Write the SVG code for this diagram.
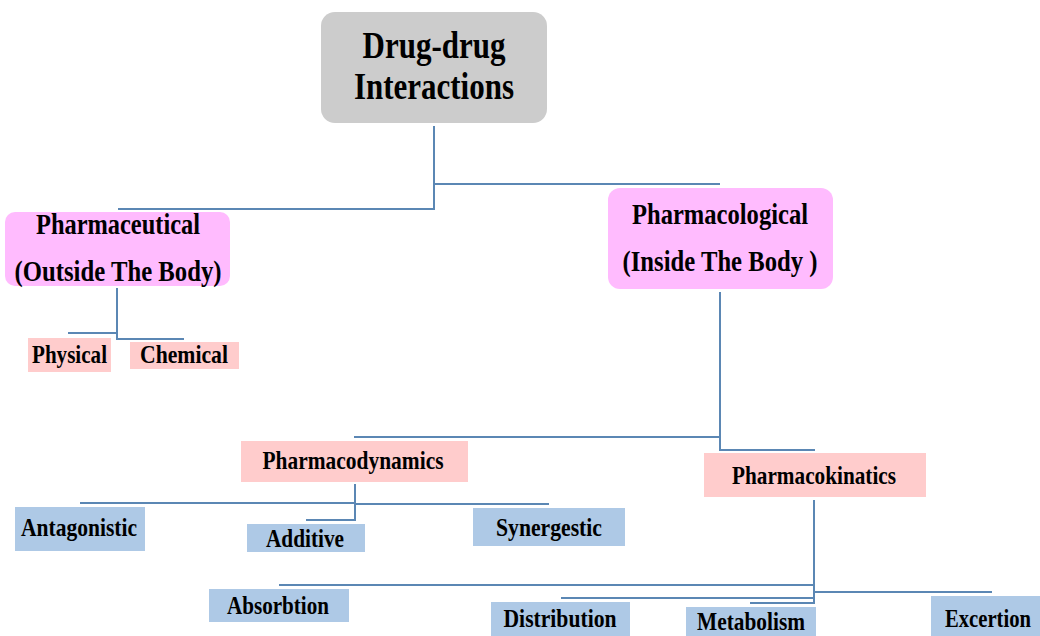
<svg xmlns="http://www.w3.org/2000/svg" width="1040" height="636" viewBox="0 0 1040 636">
<style>
text{font-family:"Liberation Serif","Times New Roman",serif;font-weight:bold;fill:#000;text-anchor:middle}
.con{fill:none;stroke:#5b87b4;stroke-width:2}
.gray{fill:#cccccc}
.mag{fill:#ffbbfe}
.pink{fill:#ffcccc}
.blue{fill:#aec9e6}
.t38{font-size:37px}
.t27{font-size:29px}
.t24{font-size:26px}
.t23{font-size:25px}
</style>
<rect width="1040" height="636" fill="#ffffff"/>
<g id="connectors" class="con">
<polyline points="434,126 434,209 118,209"/>
<polyline points="434,184 720,184"/>
<polyline points="117,288 117,339 184,339"/>
<polyline points="68,333 117,333"/>
<polyline points="720,292 720,450 815,450"/>
<polyline points="354,437 720,437"/>
<polyline points="355,484 355,520 306,520"/>
<polyline points="80,503 355,503"/>
<polyline points="355,504 549,504"/>
<polyline points="814,500 814,603 750,603"/>
<polyline points="279,585 814,585"/>
<polyline points="561,598 814,598"/>
<polyline points="814,592 992,592"/>
</g>
<g id="n-root">
<rect class="gray" x="321" y="12" width="226" height="111" rx="14"/>
<text class="t38" x="434" y="58" textLength="143" lengthAdjust="spacingAndGlyphs">Drug-drug</text>
<text class="t38" x="434" y="99" textLength="160" lengthAdjust="spacingAndGlyphs">Interactions</text>
</g>
<g id="n-pharmaceutical">
<rect class="mag" x="5" y="212" width="225" height="74" rx="10"/>
<text class="t27" x="118" y="234" textLength="164" lengthAdjust="spacingAndGlyphs">Pharmaceutical</text>
<text class="t27" x="118" y="281" textLength="207" lengthAdjust="spacingAndGlyphs">(Outside The Body)</text>
</g>
<g id="n-pharmacological">
<rect class="mag" x="608" y="188" width="225" height="101" rx="12"/>
<text class="t27" x="720" y="224" textLength="176" lengthAdjust="spacingAndGlyphs">Pharmacological</text>
<text class="t27" x="720" y="271" textLength="195" lengthAdjust="spacingAndGlyphs">(Inside The Body )</text>
</g>
<g id="n-physical">
<rect class="pink" x="28" y="338" width="83" height="34"/>
<text class="t23" x="69.5" y="363" textLength="75" lengthAdjust="spacingAndGlyphs">Physical</text>
</g>
<g id="n-chemical">
<rect class="pink" x="130" y="342" width="109" height="27"/>
<text class="t23" x="184" y="363" textLength="88" lengthAdjust="spacingAndGlyphs">Chemical</text>
</g>
<g id="n-pharmacodynamics">
<rect class="pink" x="241" y="441" width="227" height="41"/>
<text class="t24" x="353" y="469" textLength="181" lengthAdjust="spacingAndGlyphs">Pharmacodynamics</text>
</g>
<g id="n-pharmacokinatics">
<rect class="pink" x="704" y="453" width="222" height="44"/>
<text class="t24" x="814" y="484" textLength="164" lengthAdjust="spacingAndGlyphs">Pharmacokinatics</text>
</g>
<g id="n-antagonistic">
<rect class="blue" x="15" y="507" width="130" height="44"/>
<text class="t23" x="79" y="536" textLength="116" lengthAdjust="spacingAndGlyphs">Antagonistic</text>
</g>
<g id="n-additive">
<rect class="blue" x="247" y="524" width="118" height="28"/>
<text class="t23" x="305" y="547" textLength="78" lengthAdjust="spacingAndGlyphs">Additive</text>
</g>
<g id="n-synergestic">
<rect class="blue" x="473" y="508" width="152" height="38"/>
<text class="t23" x="549" y="536" textLength="106" lengthAdjust="spacingAndGlyphs">Synergestic</text>
</g>
<g id="n-absorbtion">
<rect class="blue" x="209" y="589" width="140" height="33"/>
<text class="t23" x="278" y="614" textLength="102" lengthAdjust="spacingAndGlyphs">Absorbtion</text>
</g>
<g id="n-distribution">
<rect class="blue" x="491" y="602" width="139" height="34"/>
<text class="t23" x="560" y="627" textLength="113" lengthAdjust="spacingAndGlyphs">Distribution</text>
</g>
<g id="n-metabolism">
<rect class="blue" x="686" y="607" width="130" height="29"/>
<text class="t23" x="751" y="630" textLength="108" lengthAdjust="spacingAndGlyphs">Metabolism</text>
</g>
<g id="n-excertion">
<rect class="blue" x="931" y="596" width="109" height="40"/>
<text class="t23" x="988" y="627" textLength="86" lengthAdjust="spacingAndGlyphs">Excertion</text>
</g>
</svg>
